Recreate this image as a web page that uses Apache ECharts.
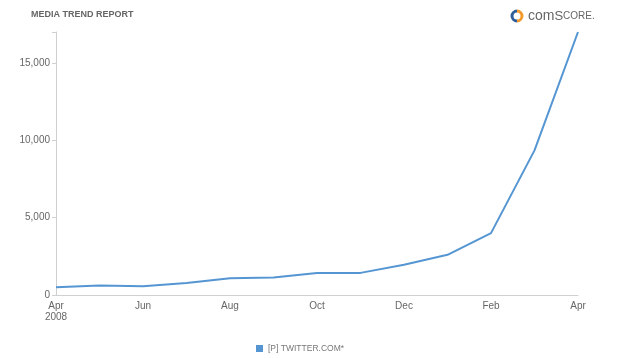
<!DOCTYPE html>
<html><head><meta charset="utf-8">
<script src="https://cdn.jsdelivr.net/npm/echarts@6/dist/echarts.min.js"></script>
<style>html,body{margin:0;padding:0;background:#fff}#c{width:622px;height:358px}</style>
</head><body><div id="c"></div>
<script>
var categories = ["Apr\n2008","May","Jun","Jul","Aug","Sep","Oct","Nov","Dec","Jan","Feb","Mar","Apr"];
var visitors = [500, 620, 560, 780, 1080, 1130, 1420, 1430, 1950, 2600, 4000, 9350, 17000];
var seriesName = "[P] TWITTER.COM*";
var titleText = "MEDIA TREND REPORT";

var chart = echarts.init(document.getElementById('c'));
chart.setOption({
  animation: false,
  backgroundColor: '#fff',
  title: {
    text: titleText, left: 26, top: 5,
    textStyle: {fontFamily: 'Liberation Sans, Arial', fontSize: 9, fontWeight: 'bold', color: '#666'}
  },
  graphic: [
    {type: 'arc', shape: {cx: 517, cy: 16, r: 5, startAngle: Math.PI/2, endAngle: Math.PI*1.5}, style: {stroke: '#2f5f9a', lineWidth: 3, fill: null}},
    {type: 'arc', shape: {cx: 517, cy: 16, r: 5, startAngle: -Math.PI/2, endAngle: Math.PI/2}, style: {stroke: '#f39a2c', lineWidth: 3, fill: null}},
    {type: 'text', left: 528, top: 9, style: {
      text: '{a|com}{b|S}{c|CORE.}',
      rich: {
        a: {fontFamily: 'Liberation Sans, Arial', fontSize: 14, fill: '#666'},
        b: {fontFamily: 'Liberation Sans, Arial', fontSize: 13, fill: '#666'},
        c: {fontFamily: 'Liberation Sans, Arial', fontSize: 10, fill: '#666'}
      }
    }}
  ],
  legend: {
    top: 339, left: 251, icon: 'rect', itemWidth: 7, itemHeight: 7, itemGap: 7,
    textStyle: {fontFamily: 'Liberation Sans, Arial', fontSize: 8.5, color: '#777'},
    data: [seriesName]
  },
  grid: {left: 56, right: 44, top: 32, bottom: 63},
  xAxis: {
    type: 'category', data: categories, boundaryGap: false,
    axisLine: {lineStyle: {color: '#d0d0d0'}},
    axisTick: {show: false},
    axisLabel: {interval: 1, color: '#666', fontFamily: 'Liberation Sans, Arial', fontSize: 10, margin: 6, lineHeight: 11}
  },
  yAxis: {
    type: 'value', min: 0, max: 17000, interval: 5000,
    axisLine: {show: true, lineStyle: {color: '#d0d0d0'}},
    axisTick: {show: true, length: 4, lineStyle: {color: '#d0d0d0'}},
    splitLine: {show: false},
    axisLabel: {color: '#666', fontFamily: 'Liberation Sans, Arial', fontSize: 10, margin: 6,
      formatter: function(v){ return v === 17000 ? '' : v.toLocaleString('en-US'); }}
  },
  series: [{
    name: seriesName, type: 'line', data: visitors, symbol: 'none',
    lineStyle: {color: '#5596d2', width: 2}, itemStyle: {color: '#5596d2'}
  }]
});
</script></body></html>
